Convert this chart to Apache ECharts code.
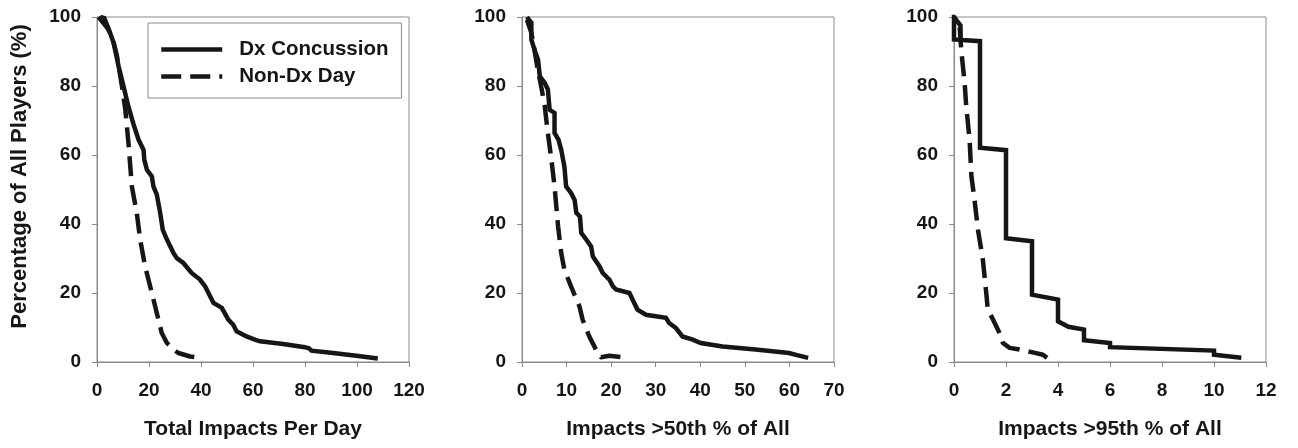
<!DOCTYPE html>
<html>
<head>
<meta charset="utf-8">
<script src="https://cdn.jsdelivr.net/npm/echarts@6/dist/echarts.min.js"></script>
<style>
html,body{margin:0;padding:0;background:#fff;}
#chart{width:1298px;height:448px;}
</style>
</head>
<body>
<div id="chart"></div>
<script>
// ---- Data ----
var seriesNames = ['Dx Concussion', 'Non-Dx Day'];
var xAxisNames = ['Total Impacts Per Day', 'Impacts >50th % of All', 'Impacts >95th % of All'];
var yAxisName = 'Percentage of All Players (%)';

// Panel 1: Total impacts per day
var p1SolidX = [1.3, 2.8, 4.5, 6.4, 8.3, 10.2, 12.1, 14, 16, 17.9, 18.2, 19.2, 21.1, 21.7, 23, 24.3, 25.3, 26.9, 29.4, 30.7, 33.2, 36.4, 39.6, 41.6, 44.8, 48, 50.5, 52.4, 53.7, 57.5, 60.7, 62.7, 71.6, 79.9, 81.5, 82.5, 90.8, 99.7, 108];
var p1SolidY = [100, 99.7, 96.5, 92.5, 85.7, 79.9, 74, 69, 64.4, 61.5, 58.6, 55.7, 53.8, 50.9, 48.5, 43.2, 38.3, 35.5, 31.6, 30.1, 28.7, 25.8, 23.9, 21.9, 17.1, 15.7, 12.3, 10.8, 8.9, 7.4, 6.5, 6, 5.2, 4.3, 4.0, 3.3, 2.6, 1.8, 1];
var p1DashX = [0.6, 3.8, 5.8, 7.7, 9.6, 10.9, 12.1, 13.4, 15.3, 16.6, 18.5, 21.1, 23, 24.9, 26.9, 29.4, 31.3, 35.8, 40.3];
var p1DashY = [100, 97, 94.4, 88.6, 79.9, 73.1, 63.5, 50.9, 43.2, 35.5, 27.7, 20, 14.2, 8.4, 5.5, 3.6, 2.6, 1.6, 1.2];

// Panel 2: Impacts >50th % of all
var p2SolidX = [1.1, 2.1, 2.1, 2.8, 3.6, 4.0, 5.1, 5.8, 6.2, 7.3, 7.3, 8.2, 8.8, 9.5, 9.9, 11, 11.8, 12.2, 13, 13.3, 14.4, 15.5, 15.9, 17.4, 18.1, 19.6, 20.4, 21.1, 24.1, 24.8, 25.9, 27.8, 32.3, 33, 34.5, 36, 38.3, 40.1, 45, 52.4, 59.9, 61.7, 64.2];
var p2SolidY = [100, 98.3, 93.4, 90.5, 87.6, 82.8, 80.9, 79, 73.1, 72.2, 66.4, 64.4, 61.5, 56.7, 50.9, 49, 47, 43.2, 42.2, 37.4, 35.5, 33.5, 30.6, 27.7, 25.8, 23.9, 21.9, 21, 20, 18.1, 15.2, 13.7, 12.8, 11.3, 9.9, 7.4, 6.5, 5.5, 4.5, 3.6, 2.6, 2, 1.2];
var p2DashX = [1.1, 2.1, 2.8, 3.4, 4.3, 5.1, 5.8, 6.6, 7.3, 8.1, 8.8, 9.5, 11, 12.9, 13.6, 15.1, 17, 17.7, 19.6, 22.2, 23.7];
var p2DashY = [99.2, 95.4, 90.5, 85.7, 79.9, 74.1, 66.4, 58.6, 50.9, 39.3, 31.6, 26.8, 21.9, 16.1, 12.3, 7.4, 2.6, 1.4, 1.8, 1.4, 1.1];

// Panel 3: Impacts >95th % of all
var p3SolidX = [0.25, 0.25, 0, 0, 1, 1, 2, 2, 3, 3, 4, 4, 4.4, 5, 5, 6, 6, 10, 10, 11.05];
var p3SolidY = [93.4, 97.5, 100, 93.5, 93, 62.1, 61.4, 35.9, 35, 19.5, 18.1, 11.8, 10.2, 9.4, 6.3, 5.5, 4.3, 3.3, 2.1, 1.2];
var p3DashX = [0.22, 0.28, 0.41, 0.47, 0.6, 0.67, 0.79, 0.92, 1.11, 1.24, 1.3, 1.5, 1.75, 1.88, 2.14, 2.52, 3.03, 3.42, 3.63];
var p3DashY = [97, 90.2, 80.9, 74.1, 64.4, 53.8, 47, 38.4, 29.7, 20, 15.2, 12.3, 8.4, 5.5, 4.1, 3.6, 2.8, 2.1, 0.9];

var xMax = [120, 70, 12];
var xInterval = [20, 10, 2];
var yTicks = [0, 20, 40, 60, 80, 100];

function pairs(xs, ys) { return xs.map(function (x, i) { return [x, ys[i]]; }); }

var FONT = 'Liberation Sans, Arial, sans-serif';
var INK = '#161616';
var FRAME = '#8a8a8a';

var gridLefts = [97, 522, 954];
var grids = gridLefts.map(function (l) {
  return { left: l, width: 312, top: 17, height: 345, show: true, borderColor: FRAME, borderWidth: 1, backgroundColor: 'transparent' };
});

var xAxes = [0, 1, 2].map(function (i) {
  return {
    type: 'value', gridIndex: i, min: 0, max: xMax[i], interval: xInterval[i],
    name: xAxisNames[i], nameLocation: 'middle', nameGap: 57,
    nameTextStyle: { fontFamily: FONT, fontWeight: 'bold', fontSize: 21, color: INK },
    axisLine: { show: true, lineStyle: { color: FRAME, width: 1 } },
    axisTick: { show: true, length: 5, inside: false, lineStyle: { color: FRAME } },
    axisLabel: { fontFamily: FONT, fontWeight: 'bold', fontSize: 19, color: INK, margin: 19 },
    splitLine: { show: false }
  };
});

var yAxes = [0, 1, 2].map(function (i) {
  return {
    type: 'value', gridIndex: i, min: yTicks[0], max: yTicks[yTicks.length - 1], interval: 20,
    name: i === 0 ? yAxisName : '', nameLocation: 'middle', nameGap: 66,
    nameTextStyle: { fontFamily: FONT, fontWeight: 'bold', fontSize: 22, color: INK, padding: [0, 0, 0, 26] },
    axisLine: { show: true, lineStyle: { color: FRAME, width: 1 } },
    axisTick: { show: true, length: 5, inside: false, lineStyle: { color: FRAME } },
    axisLabel: { fontFamily: FONT, fontWeight: 'bold', fontSize: 19, color: INK, margin: 16 },
    splitLine: { show: false }
  };
});

var solidStyle = { color: INK, width: 4.5, type: 'solid', cap: 'butt', join: 'miter' };
var dashStyle = { color: INK, width: 4.5, type: [20, 9], cap: 'butt', join: 'round' };

function mk(name, idx, data, style) {
  return {
    name: name, type: 'line', xAxisIndex: idx, yAxisIndex: idx, data: data,
    symbol: 'none', smooth: false, lineStyle: style, itemStyle: { color: INK },
    animation: false, silent: true, z: name === seriesNames[0] ? 3 : 2
  };
}

var series = [
  mk(seriesNames[0], 0, pairs(p1SolidX, p1SolidY), solidStyle),
  mk(seriesNames[1], 0, pairs(p1DashX, p1DashY), dashStyle),
  mk(seriesNames[0], 1, pairs(p2SolidX, p2SolidY), solidStyle),
  mk(seriesNames[1], 1, pairs(p2DashX, p2DashY), dashStyle),
  mk(seriesNames[0], 2, pairs(p3SolidX, p3SolidY), solidStyle),
  mk(seriesNames[1], 2, pairs(p3DashX, p3DashY), dashStyle)
];

var chart = echarts.init(document.getElementById('chart'), null, { renderer: 'canvas' });
chart.setOption({
  backgroundColor: '#ffffff',
  animation: false,
  grid: grids,
  xAxis: xAxes,
  yAxis: yAxes,
  legend: {
    data: seriesNames,
    orient: 'vertical',
    left: 148, top: 23,
    padding: [16, 13, 11, 11],
    itemWidth: 61, itemHeight: 14, itemGap: 6,
    borderColor: FRAME, borderWidth: 1,
    backgroundColor: '#fff',
    selectedMode: false,
    itemStyle: { opacity: 0, borderWidth: 0 },
    lineStyle: { width: 4.5 },
    textStyle: { fontFamily: FONT, fontWeight: 'bold', fontSize: 20.5, color: INK, padding: [0, 0, 0, 12] }
  },
  series: series
});
</script>
</body>
</html>
